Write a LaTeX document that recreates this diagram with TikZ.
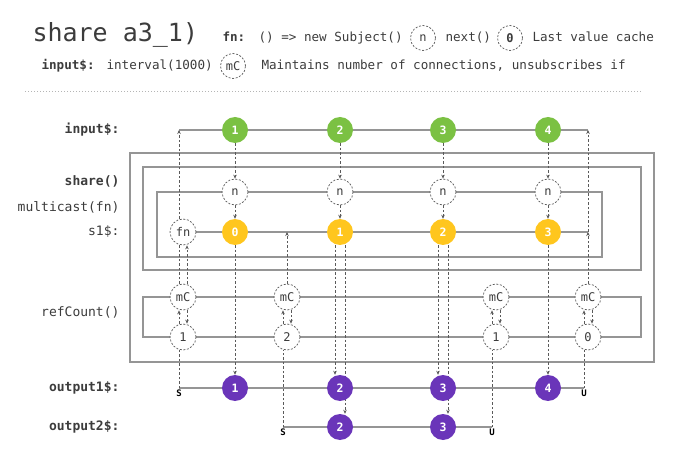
\documentclass[tikz,border=0pt]{standalone}
\usepackage{fontspec}
\setmainfont{DejaVu Sans Mono}
\usetikzlibrary{arrows.meta,backgrounds}

\definecolor{valgreen}{HTML}{7BC143}
\definecolor{valyellow}{HTML}{FFC61E}
\definecolor{valpurple}{HTML}{6A35B9}
\definecolor{lanegray}{HTML}{959595}
\definecolor{depgray}{HTML}{5A5A5A}
\definecolor{txtgray}{HTML}{3C3C3C}

\newcommand{\fsz}[1]{\fontsize{#1}{#1}\selectfont}

\tikzset{
  lane/.style={draw=lanegray, line width=1.1pt},
  depline/.style={draw=depgray, line width=0.8pt, dash pattern=on 2.5pt off 2pt},
  dep/.style={depline, -{Stealth[length=4pt,width=3.5pt]}},
  val/.style={circle, minimum size=26pt, inner sep=0pt, text=white, font=\fsz{11.5}\bfseries},
  inval/.style={val, fill=valgreen},
  sval/.style={val, fill=valyellow},
  outval/.style={val, fill=valpurple},
  op/.style={circle, draw=depgray, fill=white, line width=0.7pt, dash pattern=on 2pt off 1.6pt, minimum size=26pt, inner sep=0pt, text=txtgray, font=\fsz{12}},
  lbl/.style={anchor=east, text=txtgray, font=\fsz{13}},
  hd/.style={anchor=base west, text=txtgray, font=\fsz{12.6}},
  su/.style={below, inner sep=1.5pt, font=\fsz{9}\bfseries},
}

\begin{document}
\begin{tikzpicture}[x=1pt, y=-1pt]
\useasboundingbox (0,0) rectangle (680,470);

\def\yin{130}; % input$
\def\yn{192}; % next
\def\ys{232}; % s1$
\def\ymc{297}; % mC
\def\yc{337}; % counters
\def\yoa{388}; % output1$
\def\yob{427}; % output2$

\def\xa{235}; % value columns
\def\xb{340};
\def\xc{443};
\def\xd{548};
\def\xfn{183}; % refCount columns
\def\xmb{287};
\def\xmc{496};
\def\xmd{588};

% header
\node[hd, font=\fsz{25}] (title) at (29,42) {share a3\_1)};
\node[hd, font=\fsz{12.6}\bfseries] (fnkey) at (219,42) {fn:};
\node[hd] (fntext) at (255,42) {() => new Subject()};
\node[op, minimum size=25pt] (keyn) at (423,38) {n};
\node[hd] (nexttext) at (442,42) {next()};
\node[op, minimum size=25pt, font=\fsz{12}\bfseries] (keyv) at (510,38) {0};
\node[hd] (cachetext) at (529,42) {Last value cache};
\node[hd, font=\fsz{12.6}\bfseries] (inkey) at (38,70) {input\$:};
\node[hd] (intext) at (103,70) {interval(1000)};
\node[op, minimum size=25pt] (keymc) at (233,66) {mC};
\node[hd] (mctext) at (258,70) {Maintains number of connections, unsubscribes if};
\draw[lanegray!70, line width=0.8pt, dash pattern=on 0.8pt off 2.2pt] (25,91) -- (642,91);

% lane labels
\node[lbl, font=\fsz{13}\bfseries] (linput) at (123,\yin) {input\$:};
\node[lbl, font=\fsz{13}\bfseries] (lshare) at (123,181) {share()};
\node[lbl] (lmulticast) at (123,207) {multicast(fn)};
\node[lbl] (lsubject) at (123,\ys) {s1\$:};
\node[lbl] (lrefcount) at (123,312) {refCount()};
\node[lbl, font=\fsz{13}\bfseries] (loutone) at (123,\yoa) {output1\$:};
\node[lbl, font=\fsz{13}\bfseries] (louttwo) at (123,\yob) {output2\$:};

% input$
\node[inval] (g1) at (\xa,\yin) {1};
\node[inval] (g2) at (\xb,\yin) {2};
\node[inval] (g3) at (\xc,\yin) {3};
\node[inval] (g4) at (\xd,\yin) {4};

% subject
\node[op] (n1) at (\xa,\yn) {n};
\node[op] (n2) at (\xb,\yn) {n};
\node[op] (n3) at (\xc,\yn) {n};
\node[op] (n4) at (\xd,\yn) {n};
\node[op] (fn) at (\xfn,\ys) {fn};
\node[sval] (v0) at (\xa,\ys) {0};
\node[sval] (v1) at (\xb,\ys) {1};
\node[sval] (v2) at (\xc,\ys) {2};
\node[sval] (v3) at (\xd,\ys) {3};

% refCount
\node[op] (mc1) at (\xfn,\ymc) {mC};
\node[op] (mc2) at (\xmb,\ymc) {mC};
\node[op] (mc3) at (\xmc,\ymc) {mC};
\node[op] (mc4) at (\xmd,\ymc) {mC};
\node[op] (c1) at (\xfn,\yc) {1};
\node[op] (c2) at (\xmb,\yc) {2};
\node[op] (c3) at (\xmc,\yc) {1};
\node[op] (c4) at (\xmd,\yc) {0};

% outputs
\node[outval] (o1) at (\xa,\yoa) {1};
\node[outval] (o2) at (\xb,\yoa) {2};
\node[outval] (o3) at (\xc,\yoa) {3};
\node[outval] (o4) at (\xd,\yoa) {4};
\node[outval] (p2) at (\xb,\yob) {2};
\node[outval] (p3) at (\xc,\yob) {3};

\coordinate (inS) at (179,\yin);
\coordinate (inU) at (\xmd,\yin);
\coordinate (sJoin) at (\xmb,\ys);
\coordinate (sEnd) at (\xmd,\ys);
\coordinate (oS) at (179,\yoa);
\coordinate (oU) at (584,\yoa);
\coordinate (pS) at (283,\yob);
\coordinate (pU) at (492,\yob);

\node[su] (oSl) at (oS) {S};
\node[su] (oUl) at (oU) {U};
\node[su] (pSl) at (pS) {S};
\node[su] (pUl) at (pU) {U};

\begin{pgfonlayer}{background}
% boxes
\draw[lane] (130,153) rectangle (654,362); % share()
\draw[lane] (143,167) rectangle (641,270); % multicast(fn)
\draw[lane] (157,\yn) rectangle (602,257); % subject
\draw[lane] (143,\ymc) rectangle (641,\yc); % refCount()

% lanes
\draw[lane] (inS) -- (inU);
\draw[lane] (fn) -- (sEnd);
\draw[lane] (oS) -- (oU);
\draw[lane] (pS) -- (pU);

% values
\draw[dep] (g1) -- (n1);
\draw[dep] (g2) -- (n2);
\draw[dep] (g3) -- (n3);
\draw[dep] (g4) -- (n4);
\draw[dep] (n1) -- (v0);
\draw[dep] (n2) -- (v1);
\draw[dep] (n3) -- (v2);
\draw[dep] (n4) -- (v3);
\draw[dep] (v0) -- (o1);
\draw[dep] ([xshift=-5pt]v1.south) -- ([xshift=-5pt]o2.north);
\draw[dep] ([xshift=5pt]v1.south) -- ([xshift=5pt]p2.north);
\draw[dep] ([xshift=-5pt]v2.south) -- ([xshift=-5pt]o3.north);
\draw[dep] ([xshift=5pt]v2.south) -- ([xshift=5pt]p3.north);
\draw[dep] (v3) -- (o4);

% first subscription
\draw[depline] (oS) -- ([xshift=-4pt]c1.south);
\draw[dep] ([xshift=-4pt]c1.north) -- ([xshift=-4pt]mc1.south);
\draw[dep] ([xshift=4pt]mc1.south) -- ([xshift=4pt]c1.north);
\draw[depline] ([xshift=-4pt]mc1.north) -- ([xshift=-4pt]fn.south);
\draw[dep] ([xshift=4pt]mc1.north) -- ([xshift=4pt]fn.south);
\draw[dep] ([xshift=-4pt]fn.north) -- (inS);

% second subscription
\draw[depline] (pS) -- ([xshift=-4pt]c2.south);
\draw[dep] ([xshift=-4pt]c2.north) -- ([xshift=-4pt]mc2.south);
\draw[dep] ([xshift=4pt]mc2.south) -- ([xshift=4pt]c2.north);
\draw[dep] (mc2) -- (sJoin);

% unsubscriptions
\draw[depline] (pU) -- ([xshift=-4pt]c3.south);
\draw[dep] ([xshift=-4pt]c3.north) -- ([xshift=-4pt]mc3.south);
\draw[dep] ([xshift=4pt]mc3.south) -- ([xshift=4pt]c3.north);
\draw[depline] (oU) -- ([xshift=-4pt]c4.south);
\draw[dep] ([xshift=-4pt]c4.north) -- ([xshift=-4pt]mc4.south);
\draw[dep] ([xshift=4pt]mc4.south) -- ([xshift=4pt]c4.north);
\draw[dep] (mc4) -- (sEnd);
\draw[dep] (sEnd) -- (inU);
\end{pgfonlayer}

\end{tikzpicture}
\end{document}
